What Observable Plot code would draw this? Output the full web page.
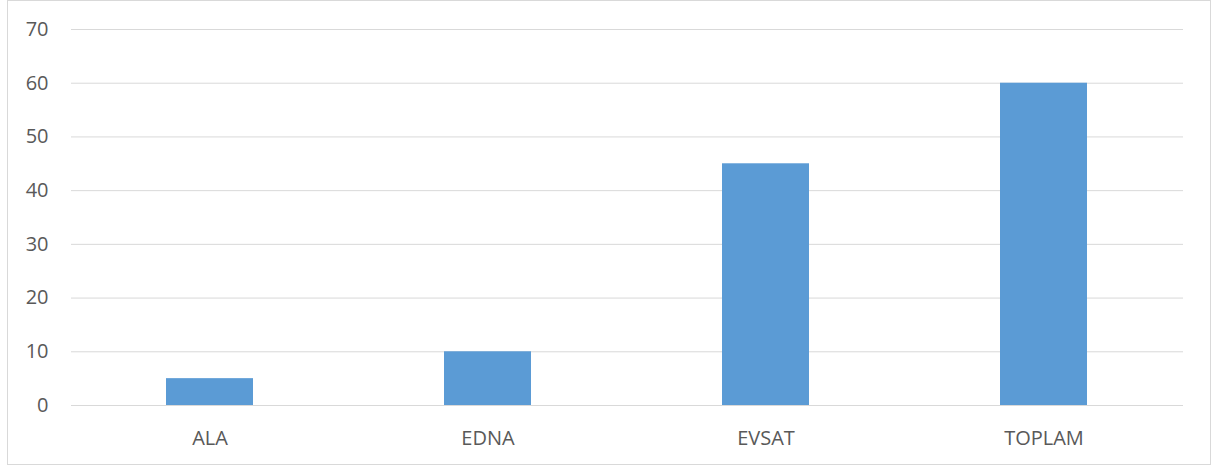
<!DOCTYPE html>
<html>
<head>
<meta charset="utf-8">
<script src="https://cdn.jsdelivr.net/npm/d3@7"></script>
<script src="https://cdn.jsdelivr.net/npm/@observablehq/plot@0.6"></script>
<style>
  html, body { margin: 0; padding: 0; background: #fff; }
  #wrap { position: relative; width: 1215px; height: 468px; }
  #border { position: absolute; left: 7px; top: 0px; width: 1204px; height: 465px; border: 1px solid #d9d9d9; box-sizing: border-box; pointer-events: none; }
  #chart { position: absolute; left: 0; top: 0; }
</style>
</head>
<body>
<div id="wrap"><div id="border"></div><div id="chart"></div></div>
<script>
const categories = ["ALA", "EDNA", "EVSAT", "TOPLAM"];
const values = [5, 10, 45, 60];
const yTicks = [0, 10, 20, 30, 40, 50, 60, 70];

const data = categories.map((c, i) => ({category: c, value: values[i]}));

const chart = Plot.plot({
  width: 1215,
  height: 468,
  marginLeft: 71,
  marginRight: 32,
  marginTop: 29,
  marginBottom: 63,
  style: {fontFamily: "'Open Sans', sans-serif", fontSize: "20px", color: "#595959", background: "transparent"},
  x: {domain: categories, paddingInner: 0.687, paddingOuter: 0.3435, label: null},
  y: {domain: [0, 70], label: null},
  marks: [
    Plot.gridY(yTicks, {stroke: "#d9d9d9", strokeOpacity: 1, strokeWidth: 1}),
    Plot.barY(data, {x: "category", y: "value", fill: "#5b9bd5"}),
    Plot.ruleY([0], {stroke: "#d9d9d9", strokeWidth: 1}),
    Plot.axisY({ticks: yTicks, tickSize: 0, tickPadding: 23, fill: "#595959", label: null}),
    Plot.axisX({tickSize: 0, tickPadding: 25, fill: "#595959", label: null})
  ]
});
document.getElementById("chart").appendChild(chart);
</script>
</body>
</html>
